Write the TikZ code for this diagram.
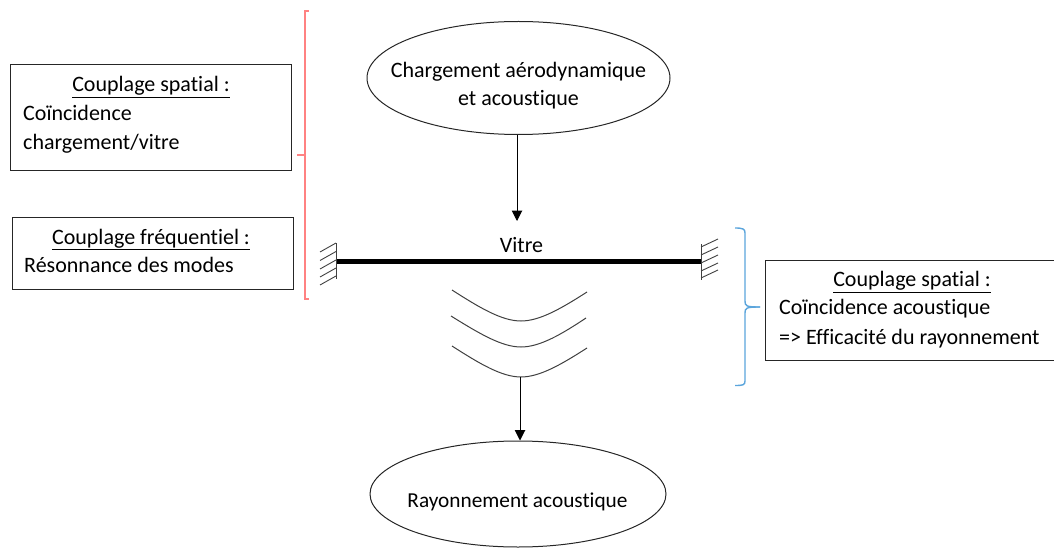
\documentclass[tikz,border=0pt]{standalone}
\usepackage{fontspec}
\setmainfont{Carlito}[Ligatures=CommonOff]
\usetikzlibrary{shapes.geometric,arrows.meta}
\definecolor{redb}{RGB}{255,130,130}
\definecolor{blueb}{RGB}{91,165,220}
\tikzset{
  every node/.style={font=\fontsize{22}{26}\selectfont},
  bubble/.style={draw=black!85,line width=1pt,ellipse,inner sep=0pt,align=center},
  infobox/.style={draw=black!85,line width=1pt,inner sep=0pt,anchor=north west},
  txt/.style={inner sep=0pt},
  arrow/.style={draw=black,line width=1pt,-{Triangle[length=10.5pt,width=10.5pt]}},
  wave/.style={draw=black!75,line width=1pt},
  hatch/.style={draw=black!75,line width=0.9pt},
  redbrace/.style={draw=redb,line width=1.4pt},
  bluebrace/.style={draw=blueb,line width=1.4pt},
}
\begin{document}
\begin{tikzpicture}[x=1pt,y=-1pt]
\useasboundingbox (0,0) rectangle (1054,548);
% ellipses
\node[bubble,minimum width=303pt,minimum height=113pt] (load) at (518.5,78) {};
\node[txt] (loadA) at (518.5,72) {Chargement aérodynamique};
\node[txt] (loadB) at (518.5,100) {et acoustique};
\node[bubble,minimum width=296pt,minimum height=106pt] (rad) at (518,494) {};
\node[txt,font=\fontsize{21.3}{26}\selectfont] (radT) at (517.5,502) {Rayonnement acoustique};
% plate
\coordinate (pl) at (336,261.5);
\coordinate (pr) at (701,261.5);
\draw[line width=5pt] (pl) -- (pr);
\node[txt] (vitre) at (521.5,245) {Vitre};
\coordinate (vt) at (517,221);
\draw[arrow] (load.south -| vt) -- (vt);
% left hatch
\draw[hatch] (336,243) -- (336,279);
\foreach \y in {243,251.5,260,268,276}{ \draw[hatch] (336,\y) -- (320,\y+9); }
% right hatch
\draw[hatch] (701,244) -- (701,280);
\foreach \y in {247,255,263,271,278}{ \draw[hatch] (701,\y) -- (718,\y-8); }
% waves
\draw[wave] (452,290) .. controls (480,308) and (502,321) .. (521,321) .. controls (540,321) and (562,308) .. (587,292);
\draw[wave] (451,316) .. controls (480,334) and (502,347) .. (521,347) .. controls (540,347) and (562,334) .. (586,318);
\draw[wave] (452,346) .. controls (480,364) and (502,377) .. (521,377) .. controls (540,377) and (562,364) .. (587,348);
\coordinate (wb) at (520,377);
\draw[arrow] (wb) -- (wb |- rad.north);
% boxes
\node[infobox,minimum width=281pt,minimum height=106pt] (b1) at (10,64) {};
\node[txt] (b1a) at (151,87) {\underline{Couplage spatial :}};
\node[txt,anchor=west] (b1b) at (23,113) {Coïncidence};
\node[txt,anchor=west] (b1c) at (23,144) {chargement/vitre};
\node[infobox,minimum width=281pt,minimum height=72pt] (b2) at (12,217) {};
\node[txt] (b2a) at (151,239.5) {\underline{Couplage fréquentiel :}};
\node[txt,anchor=west] (b2b) at (24,265) {Résonnance des modes};
\node[infobox,minimum width=289pt,minimum height=100pt] (b3) at (765,260) {};
\node[txt] (b3a) at (912,282) {\underline{Couplage spatial :}};
\node[txt,anchor=west] (b3b) at (779,309) {Coïncidence acoustique};
\node[txt,anchor=west] (b3c) at (779,339) {=> Efficacité du rayonnement};
% braces
\draw[redbrace] (309,11) -- (305,11) -- (305,299) -- (309,299);
\draw[redbrace] (297,155) -- (305,155);
\draw[bluebrace] (735,228) .. controls (743,228) and (745,229) .. (745,233) -- (745,301) .. controls (745,306) and (746,307) .. (760,307);
\draw[bluebrace] (760,307) .. controls (746,307) and (745,308) .. (745,313) -- (745,381) .. controls (745,385) and (743,385.5) .. (735,385.5);
\end{tikzpicture}
\end{document}
